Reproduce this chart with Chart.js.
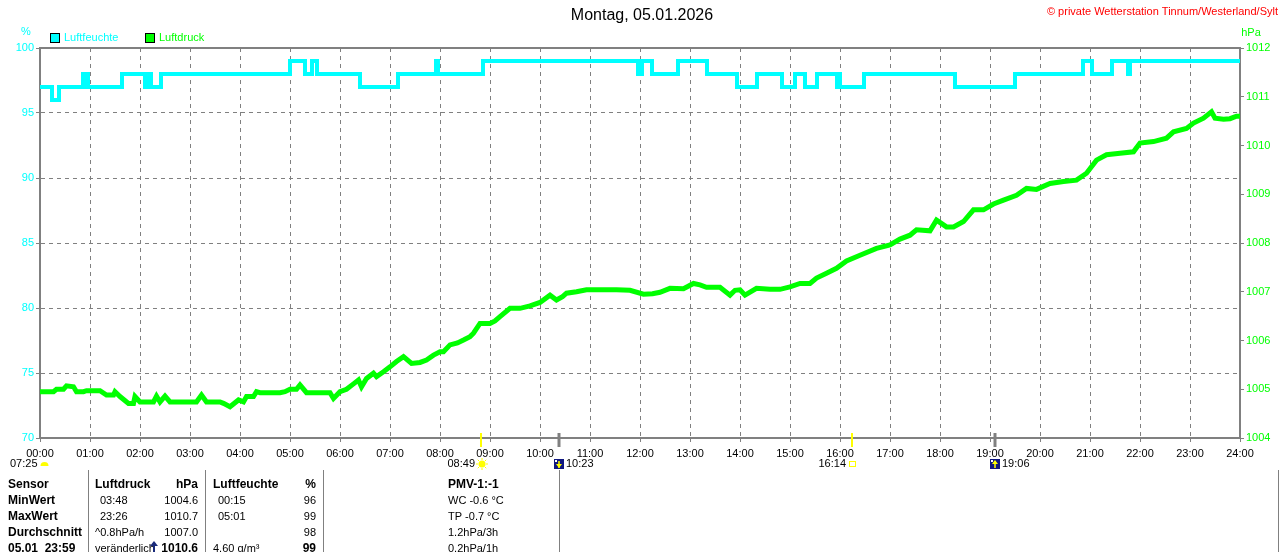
<!DOCTYPE html>
<html lang="de">
<head>
    <meta charset="UTF-8">
    <title>Wetterstation Tinnum - Luftfeuchte / Luftdruck</title>
    <script src="https://cdn.jsdelivr.net/npm/chart.js"></script>
    <style>
        html, body { margin: 0; padding: 0; background: #fff; }
        canvas { display: block; }
    </style>
</head>
<body>
    <canvas id="wetterChart" width="1280" height="552"></canvas>

    <script>
        // Luftfeuchte (%) - Zeit in Stunden, Wert gilt ab diesem Zeitpunkt
        const humTimes = [0, 0.24, 0.38, 0.86, 0.90, 0.92, 0.96, 1.64, 2.10, 2.14, 2.22, 2.42,
            5.0, 5.3, 5.44, 5.54, 6.4, 7.16, 7.92, 7.96, 8.86, 11.96, 12.04, 12.24, 12.76,
            13.34, 13.94, 14.34, 14.84, 15.1, 15.3, 15.54, 15.94, 15.98, 16.0, 16.48,
            18.3, 19.5, 20.86, 21.04, 21.44, 21.76, 21.8, 24];
        const humValues = [97, 96, 97, 98, 97, 98, 97, 98, 97, 98, 97, 98,
            99, 98, 99, 98, 97, 98, 99, 98, 99, 98, 99, 98, 99,
            98, 97, 98, 97, 98, 97, 98, 97, 98, 97, 98,
            97, 98, 99, 98, 99, 98, 99, 99];

        // Luftdruck (hPa)
        const pressTimes = [0, 0.27, 0.33, 0.47, 0.53, 0.67, 0.73, 0.87, 0.93, 1.2, 1.33, 1.47, 1.5, 1.6, 1.77,
            1.87, 1.9, 2.0, 2.27, 2.33, 2.4, 2.5, 2.6, 3.13, 3.23, 3.33, 3.6, 3.67, 3.8, 3.97,
            4.07, 4.13, 4.27, 4.33, 4.4, 4.8, 4.9, 5.0, 5.13, 5.2, 5.33, 5.8, 5.87, 6.0, 6.13,
            6.27, 6.37, 6.43, 6.53, 6.67, 6.73, 6.87, 7.0, 7.13, 7.27, 7.43, 7.6, 7.73, 7.87, 8.0,
            8.07, 8.2, 8.35, 8.47, 8.6, 8.67, 8.8, 9.0, 9.1, 9.2, 9.4, 9.6, 9.8, 10.0,
            10.2, 10.33, 10.45, 10.53, 10.73, 10.93, 11.13, 11.3, 11.53, 11.8, 12.07, 12.25, 12.4, 12.6, 12.87,
            13.07, 13.2, 13.33, 13.6, 13.8, 13.9, 14.0, 14.1, 14.33, 14.6, 14.8, 15.0, 15.2, 15.4, 15.53,
            15.73, 15.93, 16.13, 16.4, 16.73, 17.0, 17.2, 17.4, 17.53, 17.8, 17.93, 18.13, 18.27, 18.47, 18.67,
            18.87, 19.07, 19.27, 19.53, 19.73, 19.93, 20.2, 20.47, 20.73, 20.93, 21.13, 21.33, 21.6, 21.87, 22.0,
            22.27, 22.53, 22.67, 22.93, 23.07, 23.27, 23.43, 23.5, 23.67, 23.8, 23.93, 24];
        const pressValues = [1004.95, 1004.95, 1005.0, 1005.0, 1005.07, 1005.05, 1004.95, 1004.95, 1004.97, 1004.97, 1004.88, 1004.88, 1004.95, 1004.85, 1004.71,
            1004.71, 1004.85, 1004.74, 1004.74, 1004.86, 1004.74, 1004.86, 1004.74, 1004.74, 1004.88, 1004.74, 1004.74, 1004.71, 1004.64, 1004.78,
            1004.74, 1004.85, 1004.85, 1004.95, 1004.93, 1004.93, 1004.95, 1005.0, 1005.0, 1005.09, 1004.93, 1004.93, 1004.81, 1004.95, 1005.0,
            1005.11, 1005.19, 1005.05, 1005.22, 1005.33, 1005.26, 1005.36, 1005.46, 1005.57, 1005.67, 1005.53, 1005.55, 1005.6, 1005.7, 1005.77,
            1005.77, 1005.91, 1005.95, 1006.01, 1006.08, 1006.15, 1006.35, 1006.35, 1006.4, 1006.49, 1006.66, 1006.66, 1006.71, 1006.78,
            1006.93, 1006.83, 1006.9, 1006.97, 1007.0, 1007.04, 1007.04, 1007.04, 1007.04, 1007.03, 1006.95, 1006.96, 1006.99, 1007.07, 1007.06,
            1007.17, 1007.14, 1007.09, 1007.09, 1006.93, 1007.03, 1007.04, 1006.93, 1007.07, 1007.05, 1007.05, 1007.1, 1007.17, 1007.17, 1007.28,
            1007.38, 1007.48, 1007.63, 1007.75, 1007.89, 1007.96, 1008.08, 1008.16, 1008.27, 1008.25, 1008.47, 1008.33, 1008.33, 1008.44, 1008.68,
            1008.68, 1008.8, 1008.88, 1008.98, 1009.12, 1009.1, 1009.22, 1009.26, 1009.29, 1009.43, 1009.7, 1009.81, 1009.84, 1009.87, 1010.05,
            1010.08, 1010.15, 1010.28, 1010.35, 1010.46, 1010.56, 1010.69, 1010.56, 1010.54, 1010.55, 1010.6, 1010.6];

        // Sonne / Mond Ereignisse
        const eventTimes = [8.8167, 10.3833, 16.2333, 19.1];
        const eventLabels = ['08:49', '10:23', '16:14', '19:06'];
        const eventKinds = ['sunrise', 'moonset', 'sunset', 'moonrise'];

        // Tabelle unten
        const tableRows = [
            ['Sensor', 'Luftdruck', 'hPa', 'Luftfeuchte', '%', 'PMV-1:-1'],
            ['MinWert', '03:48', '1004.6', '00:15', '96', 'WC -0.6 °C'],
            ['MaxWert', '23:26', '1010.7', '05:01', '99', 'TP -0.7 °C'],
            ['Durchschnitt', '^0.8hPa/h', '1007.0', '', '98', '1.2hPa/3h'],
            ['05.01  23:59', 'veränderlich', '1010.6', '4.60 g/m³', '99', '0.2hPa/1h']
        ];

        const CYAN = '#00ffff';
        const GREEN = '#00ff00';
        const GREY = '#808080';
        const FONT = '"Liberation Sans", Arial, sans-serif';

        function hh(v) {
            return String(v).padStart(2, '0') + ':00';
        }

        function drawSun(ctx, x, y) {
            ctx.save();
            ctx.strokeStyle = '#ffff00';
            ctx.fillStyle = '#ffff00';
            ctx.lineWidth = 1;
            for (let i = 0; i < 8; i++) {
                const a = i * Math.PI / 4;
                ctx.beginPath();
                ctx.moveTo(x + Math.cos(a) * 4, y + Math.sin(a) * 4);
                ctx.lineTo(x + Math.cos(a) * 6, y + Math.sin(a) * 6);
                ctx.stroke();
            }
            ctx.beginPath();
            ctx.arc(x, y, 3.5, 0, Math.PI * 2);
            ctx.fill();
            ctx.restore();
        }

        function drawMoon(ctx, x, y, up) {
            ctx.save();
            ctx.fillStyle = '#101880';
            ctx.fillRect(x - 5, y - 5, 10, 10);
            ctx.fillStyle = '#ffffff';
            ctx.fillRect(x - 4, y - 4, 2, 2);
            ctx.strokeStyle = '#ffff00';
            ctx.fillStyle = '#ffff00';
            ctx.lineWidth = 1.5;
            ctx.beginPath();
            ctx.moveTo(x, y - 3);
            ctx.lineTo(x, y + 4);
            ctx.stroke();
            ctx.beginPath();
            if (up) {
                ctx.moveTo(x - 3, y);
                ctx.lineTo(x + 3, y);
                ctx.lineTo(x, y - 4);
            } else {
                ctx.moveTo(x - 3, y);
                ctx.lineTo(x + 3, y);
                ctx.lineTo(x, y + 4);
            }
            ctx.fill();
            ctx.restore();
        }

        // Zusatzbeschriftung: Titel, Legende, Einheiten, Ereignisse, Tabelle
        const extrasPlugin = {
            id: 'extras',
            afterDraw(chart) {
                const ctx = chart.ctx;
                const area = chart.chartArea;
                const xs = chart.scales.x;
                ctx.save();

                // oberer Rahmen
                ctx.strokeStyle = GREY;
                ctx.lineWidth = 2;
                ctx.beginPath();
                ctx.moveTo(area.left - 1, area.top);
                ctx.lineTo(area.right + 1, area.top);
                ctx.stroke();

                ctx.textBaseline = 'middle';

                // Titel
                ctx.fillStyle = '#000';
                ctx.font = '16px ' + FONT;
                ctx.textAlign = 'center';
                ctx.fillText('Montag, 05.01.2026', 642, 16);

                ctx.fillStyle = '#ff0000';
                ctx.font = '11px ' + FONT;
                ctx.textAlign = 'right';
                ctx.fillText('© private Wetterstation Tinnum/Westerland/Sylt', 1278, 12);

                // Einheiten
                ctx.textAlign = 'center';
                ctx.fillStyle = CYAN;
                ctx.fillText('%', 26, 32);
                ctx.fillStyle = GREEN;
                ctx.fillText('hPa', 1251, 33);

                // Legende
                ctx.textAlign = 'left';
                const legend = [['Luftfeuchte', CYAN, 50], ['Luftdruck', GREEN, 145]];
                legend.forEach(([label, color, lx]) => {
                    ctx.fillStyle = color;
                    ctx.fillRect(lx, 33, 10, 10);
                    ctx.strokeStyle = '#000';
                    ctx.lineWidth = 1;
                    ctx.strokeRect(lx + 0.5, 33.5, 9, 9);
                    ctx.fillStyle = color;
                    ctx.fillText(label, lx + 14, 38);
                });

                // Ereignis-Markierungen an der Zeitachse
                ctx.font = '11px ' + FONT;
                ctx.fillStyle = '#000';
                ctx.textAlign = 'left';
                ctx.fillText('07:25', 10, 464);
                ctx.fillStyle = '#ffff00';
                ctx.beginPath();
                ctx.arc(44.5, 466, 4, Math.PI, 0);
                ctx.fill();

                eventTimes.forEach((t, i) => {
                    const px = Math.round(xs.getPixelForValue(t));
                    const kind = eventKinds[i];
                    const isSun = kind === 'sunrise' || kind === 'sunset';
                    ctx.strokeStyle = isSun ? '#ffff00' : GREY;
                    ctx.lineWidth = isSun ? 2 : 3;
                    ctx.beginPath();
                    ctx.moveTo(px, area.bottom - 5);
                    ctx.lineTo(px, area.bottom + 9);
                    ctx.stroke();

                    ctx.fillStyle = '#000';
                    if (kind === 'sunrise') {
                        ctx.textAlign = 'right';
                        ctx.fillText(eventLabels[i], px - 6, 464);
                        drawSun(ctx, px + 1, 464);
                    } else if (kind === 'sunset') {
                        ctx.textAlign = 'right';
                        ctx.fillText(eventLabels[i], px - 6, 464);
                        ctx.strokeStyle = '#ffff00';
                        ctx.lineWidth = 1;
                        ctx.strokeRect(px - 2.5, 461.5, 6, 5);
                    } else {
                        drawMoon(ctx, px, 464, kind === 'moonrise');
                        ctx.fillStyle = '#000';
                        ctx.textAlign = 'left';
                        ctx.fillText(eventLabels[i], px + 7, 464);
                    }
                });

                // Tabelle
                ctx.strokeStyle = GREY;
                ctx.lineWidth = 1;
                [88, 205, 323, 559, 1278].forEach(lx => {
                    ctx.beginPath();
                    ctx.moveTo(lx + 0.5, 470);
                    ctx.lineTo(lx + 0.5, 552);
                    ctx.stroke();
                });

                const colX = [8, 95, 198, 213, 316, 448];
                const colAlign = ['left', 'left', 'right', 'left', 'right', 'left'];
                tableRows.forEach((row, r) => {
                    const y = 485 + r * 16;
                    row.forEach((txt, c) => {
                        const bold = r === 0 || c === 0 || (r === 4 && (c === 2 || c === 4));
                        ctx.font = (bold ? 'bold 12px ' : '11px ') + FONT;
                        ctx.fillStyle = '#000';
                        ctx.textAlign = colAlign[c];
                        let x = colX[c];
                        if (r > 0 && (c === 1 || c === 3) && /^\d\d:\d\d$/.test(txt)) x += 5;
                        ctx.fillText(txt, x, y);
                    });
                });
                // Tendenzpfeil
                ctx.fillStyle = '#1a2a7a';
                ctx.beginPath();
                ctx.moveTo(154, 541);
                ctx.lineTo(158, 546);
                ctx.lineTo(150, 546);
                ctx.fill();
                ctx.fillRect(153, 545, 2, 8);

                ctx.restore();
            }
        };

        new Chart(document.getElementById('wetterChart'), {
            type: 'line',
            data: {
                datasets: [
                    {
                        label: 'Luftfeuchte',
                        data: humTimes.map((t, i) => ({ x: t, y: humValues[i] })),
                        yAxisID: 'y',
                        borderColor: CYAN,
                        borderWidth: 4,
                        stepped: true,
                        pointRadius: 0
                    },
                    {
                        label: 'Luftdruck',
                        data: pressTimes.map((t, i) => ({ x: t, y: pressValues[i] })),
                        yAxisID: 'y2',
                        borderColor: GREEN,
                        borderWidth: 5,
                        tension: 0,
                        pointRadius: 0
                    }
                ]
            },
            options: {
                responsive: false,
                animation: false,
                devicePixelRatio: 1,
                layout: { padding: { top: 48, left: 0, right: 0, bottom: 0 } },
                plugins: {
                    legend: { display: false },
                    tooltip: { enabled: false }
                },
                scales: {
                    x: {
                        type: 'linear',
                        min: 0,
                        max: 24,
                        afterFit: s => { s.height = 114; },
                        ticks: {
                            stepSize: 1,
                            autoSkip: false,
                            maxRotation: 0,
                            padding: 5,
                            color: '#000',
                            font: { family: FONT, size: 11 },
                            callback: v => hh(v)
                        },
                        grid: { color: GREY, lineWidth: 1, tickLength: 4, tickColor: GREY },
                        border: { color: GREY, width: 2, dash: [4, 4] }
                    },
                    y: {
                        position: 'left',
                        min: 70,
                        max: 100,
                        afterFit: s => { s.width = 40; },
                        ticks: {
                            stepSize: 5,
                            padding: 2,
                            color: CYAN,
                            font: { family: FONT, size: 11 },
                            callback: v => String(v)
                        },
                        grid: { color: GREY, lineWidth: 1, tickLength: 4, tickColor: GREY },
                        border: { color: GREY, width: 2, dash: [4, 4] }
                    },
                    y2: {
                        position: 'right',
                        min: 1004,
                        max: 1012,
                        afterFit: s => { s.width = 40; },
                        ticks: {
                            stepSize: 1,
                            padding: 2,
                            color: GREEN,
                            font: { family: FONT, size: 11 },
                            callback: v => String(v)
                        },
                        grid: { drawOnChartArea: false, tickLength: 4, color: GREY },
                        border: { color: GREY, width: 2 }
                    }
                }
            },
            plugins: [extrasPlugin]
        });
    </script>
</body>
</html>
